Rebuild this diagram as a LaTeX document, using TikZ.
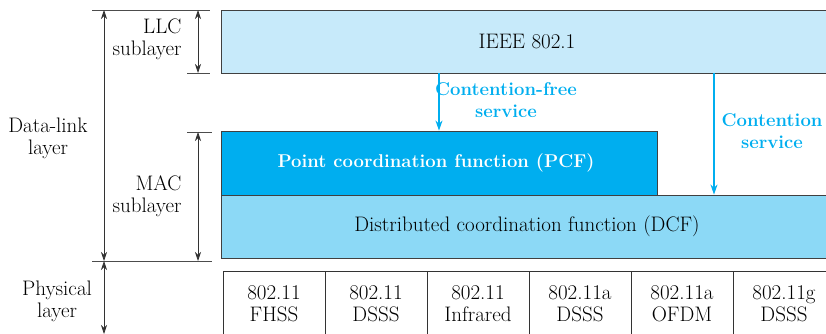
\documentclass[tikz,border=0pt]{standalone}
\usepackage{fontspec}
\usetikzlibrary{arrows.meta}
\definecolor{llcblue}{RGB}{199,234,250}
\definecolor{pcfblue}{RGB}{0,174,239}
\definecolor{dcfblue}{RGB}{140,217,246}
\begin{document}
\begin{tikzpicture}[
  x=1pt, y=-1pt,
  every node/.style={font=\fontsize{21}{22}\selectfont},
  layerbox/.style={draw=black!75, line width=0.9pt, inner sep=0pt},
  phybox/.style={draw=black!80, line width=0.9pt, minimum width=102pt, minimum height=66pt, align=center, inner sep=0pt},
  svcarrow/.style={draw=pcfblue, line width=1.1pt, -{Stealth[length=10pt,width=7pt]}},
  svclabel/.style={text=pcfblue, font=\fontsize{18.5}{22}\selectfont\bfseries, align=center},
  dimarrow/.style={draw=black!80, line width=0.7pt, {Stealth[length=9pt,width=6pt]}-{Stealth[length=9pt,width=6pt]}},
  tick/.style={draw=black!70, line width=0.7pt},
  sidelabel/.style={align=right}
]
  \useasboundingbox (0,0) rectangle (826,334);
  \clip (0,0) rectangle (826,334);

  % Schichten
  \node[layerbox, fill=llcblue, minimum width=679pt, minimum height=63pt] (llc) at (560.5,41.5) {};
  \node at (527,41.5) {IEEE 802.1};
  \node[layerbox, fill=dcfblue, minimum width=679pt, minimum height=63pt] (dcf) at (560.5,226.5) {};
  \node at (527,226.5) {Distributed coordination function (DCF)};
  \node[layerbox, fill=pcfblue, minimum width=436pt, minimum height=64pt] (pcf) at (439,163) {};
  \node[text=white, font=\fontsize{18.5}{22}\selectfont\bfseries] at (436,163) {Point coordination function (PCF)};

  % physikalische Schicht
  \foreach \i/\a/\b in {1/802.11/FHSS, 2/802.11/DSSS, 3/802.11/Infrared, 4/802.11a/DSSS, 5/802.11a/OFDM, 6/802.11g/DSSS} {
    \node[phybox] (c\i) at ({223+51+102*(\i-1)},304) {\a\\\b};
  }

  % Dienste
  \coordinate (cf) at (439,73);
  \coordinate (cs) at (714,73);
  \draw[svcarrow] (cf) -- (cf |- pcf.north);
  \draw[svcarrow] (cs) -- (cs |- dcf.north);
  \node[svclabel] (cflabel) at (506,100) {Contention-free\\service};
  \node[svclabel] (cslabel) at (772,131) {Contention\\service};

  % Bemaßung links
  \coordinate (dtop) at (104,10);
  \coordinate (dbot) at (104,261);
  \coordinate (pbot) at (104,334);
  \coordinate (ltop) at (198,10);
  \coordinate (lbot) at (198,73);
  \coordinate (mtop) at (198,132);
  \coordinate (mbot) at (198,261);
  \draw[tick] (92,10) -- (210,10);
  \draw[tick] (187,73) -- (210,73);
  \draw[tick] (187,132) -- (212,132);
  \draw[tick] (92,261) -- (212,261);
  \draw[dimarrow] (dtop) -- (dbot);
  \draw[dimarrow] (dbot) -- (pbot);
  \draw[dimarrow] (ltop) -- (lbot);
  \draw[dimarrow] (mtop) -- (mbot);

  \node[sidelabel, anchor=east] (llclabel) at (185,39) {LLC\\sublayer};
  \node[sidelabel, anchor=east] (maclabel) at (185,196) {MAC\\sublayer};
  \node[align=center] (dllabel) at (48,138) {Data-link\\layer};
  \node[align=center] (phylabel) at (57,301) {Physical\\layer};

\end{tikzpicture}
\end{document}
